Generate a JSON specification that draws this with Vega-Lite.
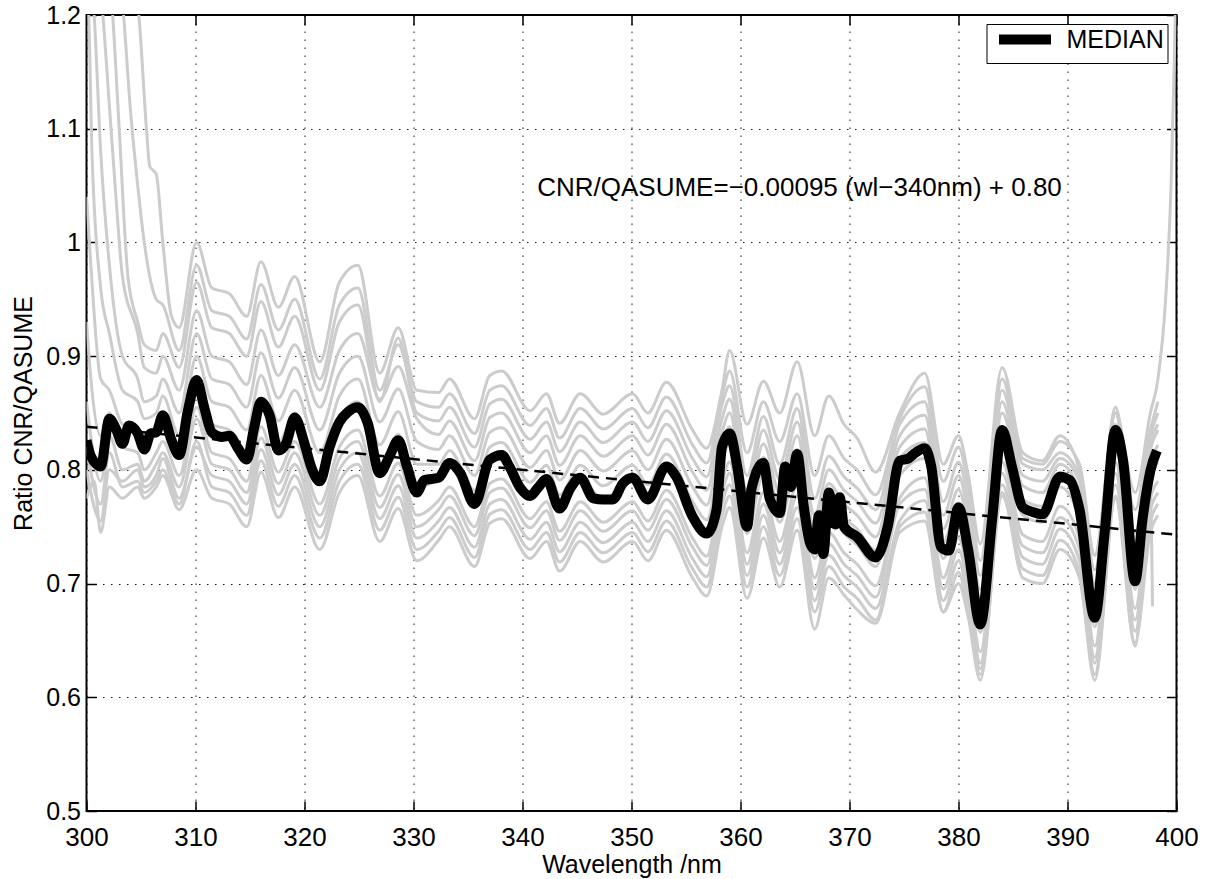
{
"$schema": "https://vega.github.io/schema/vega-lite/v6.json",
"width": 1090, "height": 796,
"autosize": {"type": "none"},
"padding": {"left": 86.5, "top": 15, "right": 35.5, "bottom": 68},
"background": "white",
"config": {"view": {"stroke": "black", "strokeWidth": 2}, "font": "Liberation Sans"},
"datasets": {
"fit": [{"w": 300, "v": 0.838}, {"w": 400, "v": 0.743}],
"note": [{"t": "CNR/QASUME=−0.00095 (wl−340nm) + 0.80"}],
"median": [
{"w":300.0,"v":0.826},{"w":300.4,"v":0.812},{"w":301.3,"v":0.803},{"w":302.1,"v":0.845},{"w":302.7,"v":0.836},{"w":303.3,"v":0.823},{"w":303.9,"v":0.839},{"w":304.7,"v":0.832},{"w":305.3,"v":0.818},{"w":305.9,"v":0.832},{"w":306.4,"v":0.833},{"w":307.0,"v":0.848},{"w":307.8,"v":0.826},{"w":308.5,"v":0.813},{"w":309.3,"v":0.852},{"w":310.1,"v":0.879},{"w":310.8,"v":0.855},{"w":311.5,"v":0.833},{"w":312.4,"v":0.829},{"w":313.1,"v":0.830},{"w":313.9,"v":0.819},{"w":314.7,"v":0.809},{"w":315.4,"v":0.838},{"w":316.0,"v":0.860},{"w":316.8,"v":0.848},{"w":317.6,"v":0.817},{"w":318.3,"v":0.823},{"w":319.1,"v":0.846},{"w":320.0,"v":0.823},{"w":320.6,"v":0.803},{"w":321.4,"v":0.790},{"w":322.3,"v":0.820},{"w":323.2,"v":0.842},{"w":324.0,"v":0.851},{"w":324.9,"v":0.855},{"w":325.8,"v":0.841},{"w":326.9,"v":0.797},{"w":327.8,"v":0.812},{"w":328.6,"v":0.826},{"w":329.4,"v":0.803},{"w":330.3,"v":0.780},{"w":331.0,"v":0.791},{"w":332.3,"v":0.793},{"w":333.3,"v":0.806},{"w":334.3,"v":0.797},{"w":335.6,"v":0.770},{"w":337.0,"v":0.809},{"w":338.1,"v":0.813},{"w":338.8,"v":0.803},{"w":339.8,"v":0.784},{"w":340.7,"v":0.777},{"w":341.4,"v":0.784},{"w":342.2,"v":0.792},{"w":343.4,"v":0.766},{"w":344.4,"v":0.784},{"w":345.3,"v":0.793},{"w":346.5,"v":0.775},{"w":347.4,"v":0.774},{"w":348.3,"v":0.774},{"w":349.2,"v":0.788},{"w":350.1,"v":0.793},{"w":351.5,"v":0.774},{"w":353.2,"v":0.803},{"w":354.1,"v":0.794},{"w":355.6,"v":0.759},{"w":356.9,"v":0.744},{"w":357.8,"v":0.765},{"w":358.3,"v":0.820},{"w":359.0,"v":0.832},{"w":359.7,"v":0.803},{"w":360.6,"v":0.750},{"w":361.0,"v":0.783},{"w":362.1,"v":0.806},{"w":362.7,"v":0.774},{"w":363.6,"v":0.762},{"w":364.1,"v":0.803},{"w":364.6,"v":0.785},{"w":365.2,"v":0.814},{"w":365.8,"v":0.768},{"w":366.4,"v":0.735},{"w":366.8,"v":0.730},{"w":367.2,"v":0.760},{"w":367.6,"v":0.726},{"w":368.1,"v":0.780},{"w":368.7,"v":0.752},{"w":369.1,"v":0.776},{"w":369.5,"v":0.750},{"w":370.7,"v":0.741},{"w":372.4,"v":0.723},{"w":373.5,"v":0.750},{"w":374.6,"v":0.808},{"w":375.4,"v":0.810},{"w":375.9,"v":0.814},{"w":376.9,"v":0.819},{"w":377.5,"v":0.803},{"w":378.4,"v":0.732},{"w":379.1,"v":0.729},{"w":380.0,"v":0.767},{"w":380.9,"v":0.729},{"w":382.0,"v":0.664},{"w":383.1,"v":0.758},{"w":384.0,"v":0.835},{"w":384.9,"v":0.803},{"w":385.9,"v":0.767},{"w":386.8,"v":0.763},{"w":387.7,"v":0.761},{"w":389.3,"v":0.794},{"w":390.2,"v":0.791},{"w":391.1,"v":0.765},{"w":392.5,"v":0.670},{"w":393.4,"v":0.744},{"w":394.4,"v":0.835},{"w":395.1,"v":0.808},{"w":396.2,"v":0.702},{"w":396.9,"v":0.758},{"w":397.6,"v":0.799},{"w":398.2,"v":0.817}
],
"gray": [
{"s":1,"w":300,"v":1.6},{"s":1,"w":302,"v":1.35},{"s":1,"w":304,"v":1.24},{"s":1,"w":304.8,"v":1.2},{"s":1,"w":305.5,"v":1.1},{"s":1,"w":305.8,"v":1.067},{"s":1,"w":306.4,"v":1.06},{"s":1,"w":307.0,"v":1.0},{"s":1,"w":307.8,"v":0.935},{"s":1,"w":308.5,"v":0.925},
{"s":1,"w":310.1,"v":1.000},{"s":1,"w":311.5,"v":0.960},{"s":1,"w":313.1,"v":0.955},{"s":1,"w":314.7,"v":0.935},{"s":1,"w":316.0,"v":0.983},{"s":1,"w":317.6,"v":0.943},{"s":1,"w":319.1,"v":0.970},{"s":1,"w":321.4,"v":0.895},{"s":1,"w":323.2,"v":0.965},{"s":1,"w":324.9,"v":0.980},{"s":1,"w":326.9,"v":0.885},{"s":1,"w":328.6,"v":0.925},{"s":1,"w":330.3,"v":0.870},
{"s":1,"w":332.3,"v":0.868},{"s":1,"w":333.3,"v":0.880},{"s":1,"w":335.6,"v":0.845},{"s":1,"w":337.0,"v":0.883},{"s":1,"w":338.1,"v":0.887},{"s":1,"w":340.7,"v":0.852},{"s":1,"w":342.2,"v":0.867},{"s":1,"w":343.4,"v":0.841},{"s":1,"w":345.3,"v":0.867},{"s":1,"w":347.4,"v":0.849},{"s":1,"w":350.1,"v":0.867},{"s":1,"w":351.5,"v":0.850},{"s":1,"w":353.2,"v":0.877},{"s":1,"w":355.6,"v":0.835},{"s":1,"w":356.9,"v":0.819},
{"s":1,"w":358.3,"v":0.870},{"s":1,"w":359.0,"v":0.905},{"s":1,"w":360.6,"v":0.840},{"s":1,"w":362.1,"v":0.878},{"s":1,"w":363.6,"v":0.850},{"s":1,"w":365.2,"v":0.895},{"s":1,"w":366.8,"v":0.830},{"s":1,"w":368.1,"v":0.865},{"s":1,"w":369.5,"v":0.840},{"s":1,"w":370.7,"v":0.828},{"s":1,"w":372.4,"v":0.798},{"s":1,"w":374.6,"v":0.850},{"s":1,"w":376.9,"v":0.885},{"s":1,"w":378.6,"v":0.805},{"s":1,"w":380.0,"v":0.830},{"s":1,"w":380.9,"v":0.795},{"s":1,"w":382.0,"v":0.735},{"s":1,"w":384.0,"v":0.890},{"s":1,"w":385.9,"v":0.815},{"s":1,"w":387.7,"v":0.808},{"s":1,"w":389.3,"v":0.830},{"s":1,"w":391.1,"v":0.800},{"s":1,"w":392.5,"v":0.725},{"s":1,"w":394.4,"v":0.850},{"s":1,"w":396.2,"v":0.780},{"s":1,"w":397.6,"v":0.850},{"s":1,"w":398.3,"v":0.880},{"s":1,"w":399.0,"v":0.950},{"s":1,"w":399.5,"v":1.050},{"s":1,"w":399.8,"v":1.160},{"s":1,"w":400,"v":1.250},
{"s":2,"w":300,"v":1.5},{"s":2,"w":302,"v":1.3},{"s":2,"w":303.4,"v":1.2},{"s":2,"w":304,"v":1.12},{"s":2,"w":304.7,"v":1.05},{"s":2,"w":305.3,"v":1.0},{"s":2,"w":306.4,"v":0.95},{"s":2,"w":307.0,"v":0.945},{"s":2,"w":308.5,"v":0.905},
{"s":2,"w":310.1,"v":0.980},{"s":2,"w":311.5,"v":0.940},{"s":2,"w":313.1,"v":0.935},{"s":2,"w":314.7,"v":0.915},{"s":2,"w":316.0,"v":0.963},{"s":2,"w":317.6,"v":0.923},{"s":2,"w":319.1,"v":0.950},{"s":2,"w":321.4,"v":0.880},{"s":2,"w":323.2,"v":0.945},{"s":2,"w":324.9,"v":0.960},{"s":2,"w":326.9,"v":0.870},{"s":2,"w":328.6,"v":0.910},{"s":2,"w":330.3,"v":0.860},
{"s":2,"w":332.3,"v":0.855},{"s":2,"w":333.3,"v":0.867},{"s":2,"w":335.6,"v":0.832},{"s":2,"w":337.0,"v":0.870},{"s":2,"w":338.1,"v":0.874},{"s":2,"w":340.7,"v":0.839},{"s":2,"w":342.2,"v":0.854},{"s":2,"w":343.4,"v":0.828},{"s":2,"w":345.3,"v":0.854},{"s":2,"w":347.4,"v":0.836},{"s":2,"w":350.1,"v":0.854},{"s":2,"w":351.5,"v":0.837},{"s":2,"w":353.2,"v":0.864},{"s":2,"w":355.6,"v":0.822},{"s":2,"w":356.9,"v":0.806},
{"s":2,"w":358.3,"v":0.865},{"s":2,"w":359.0,"v":0.887},{"s":2,"w":360.6,"v":0.815},{"s":2,"w":362.1,"v":0.860},{"s":2,"w":363.6,"v":0.825},{"s":2,"w":365.2,"v":0.867},{"s":2,"w":366.8,"v":0.795},{"s":2,"w":368.1,"v":0.830},{"s":2,"w":369.5,"v":0.810},{"s":2,"w":370.7,"v":0.800},{"s":2,"w":372.4,"v":0.778},{"s":2,"w":374.6,"v":0.845},{"s":2,"w":376.9,"v":0.873},{"s":2,"w":378.6,"v":0.790},{"s":2,"w":380.0,"v":0.820},{"s":2,"w":380.9,"v":0.785},{"s":2,"w":382.0,"v":0.720},{"s":2,"w":384.0,"v":0.880},{"s":2,"w":385.9,"v":0.810},{"s":2,"w":387.7,"v":0.805},{"s":2,"w":389.3,"v":0.825},{"s":2,"w":391.1,"v":0.805},{"s":2,"w":392.5,"v":0.725},{"s":2,"w":394.4,"v":0.850},{"s":2,"w":396.2,"v":0.765},{"s":2,"w":397.6,"v":0.835},{"s":2,"w":398.3,"v":0.860},
{"s":3,"w":300,"v":1.4},{"s":3,"w":301,"v":1.3},{"s":3,"w":302.4,"v":1.2},{"s":3,"w":303,"v":1.1},{"s":3,"w":303.8,"v":0.97},{"s":3,"w":304.7,"v":0.93},{"s":3,"w":305.3,"v":0.91},{"s":3,"w":306.4,"v":0.905},{"s":3,"w":307.0,"v":0.92},{"s":3,"w":308.5,"v":0.89},
{"s":3,"w":310.1,"v":0.965},{"s":3,"w":311.5,"v":0.925},{"s":3,"w":313.1,"v":0.920},{"s":3,"w":314.7,"v":0.900},{"s":3,"w":316.0,"v":0.948},{"s":3,"w":317.6,"v":0.908},{"s":3,"w":319.1,"v":0.935},{"s":3,"w":321.4,"v":0.870},{"s":3,"w":323.2,"v":0.930},{"s":3,"w":324.9,"v":0.945},{"s":3,"w":326.9,"v":0.860},{"s":3,"w":328.6,"v":0.916},{"s":3,"w":330.3,"v":0.850},
{"s":3,"w":332.3,"v":0.843},{"s":3,"w":333.3,"v":0.855},{"s":3,"w":335.6,"v":0.820},{"s":3,"w":337.0,"v":0.858},{"s":3,"w":338.1,"v":0.862},{"s":3,"w":340.7,"v":0.827},{"s":3,"w":342.2,"v":0.842},{"s":3,"w":343.4,"v":0.816},{"s":3,"w":345.3,"v":0.842},{"s":3,"w":347.4,"v":0.824},{"s":3,"w":350.1,"v":0.842},{"s":3,"w":351.5,"v":0.825},{"s":3,"w":353.2,"v":0.852},{"s":3,"w":355.6,"v":0.810},{"s":3,"w":356.9,"v":0.794},
{"s":3,"w":358.3,"v":0.857},{"s":3,"w":359.0,"v":0.874},{"s":3,"w":360.6,"v":0.795},{"s":3,"w":362.1,"v":0.847},{"s":3,"w":363.6,"v":0.805},{"s":3,"w":365.2,"v":0.854},{"s":3,"w":366.8,"v":0.775},{"s":3,"w":368.1,"v":0.812},{"s":3,"w":369.5,"v":0.794},{"s":3,"w":370.7,"v":0.784},{"s":3,"w":372.4,"v":0.765},{"s":3,"w":374.6,"v":0.840},{"s":3,"w":376.9,"v":0.860},{"s":3,"w":378.6,"v":0.772},{"s":3,"w":380.0,"v":0.807},{"s":3,"w":380.9,"v":0.772},{"s":3,"w":382.0,"v":0.707},{"s":3,"w":384.0,"v":0.870},{"s":3,"w":385.9,"v":0.805},{"s":3,"w":387.7,"v":0.800},{"s":3,"w":389.3,"v":0.815},{"s":3,"w":391.1,"v":0.795},{"s":3,"w":392.5,"v":0.712},{"s":3,"w":394.4,"v":0.855},{"s":3,"w":396.2,"v":0.745},{"s":3,"w":397.6,"v":0.830},{"s":3,"w":398.3,"v":0.850},
{"s":4,"w":300,"v":1.3},{"s":4,"w":301.5,"v":1.2},{"s":4,"w":302.1,"v":1.12},{"s":4,"w":302.7,"v":1.04},{"s":4,"w":303.3,"v":0.97},{"s":4,"w":304.7,"v":0.92},{"s":4,"w":305.3,"v":0.89},{"s":4,"w":306.4,"v":0.885},{"s":4,"w":307.0,"v":0.9},{"s":4,"w":308.5,"v":0.87},
{"s":4,"w":310.1,"v":0.940},{"s":4,"w":311.5,"v":0.900},{"s":4,"w":313.1,"v":0.895},{"s":4,"w":314.7,"v":0.875},{"s":4,"w":316.0,"v":0.923},{"s":4,"w":317.6,"v":0.883},{"s":4,"w":319.1,"v":0.910},{"s":4,"w":321.4,"v":0.855},{"s":4,"w":323.2,"v":0.905},{"s":4,"w":324.9,"v":0.920},{"s":4,"w":326.9,"v":0.862},{"s":4,"w":328.6,"v":0.891},{"s":4,"w":330.3,"v":0.845},
{"s":4,"w":332.3,"v":0.831},{"s":4,"w":333.3,"v":0.843},{"s":4,"w":335.6,"v":0.808},{"s":4,"w":337.0,"v":0.846},{"s":4,"w":338.1,"v":0.850},{"s":4,"w":340.7,"v":0.815},{"s":4,"w":342.2,"v":0.830},{"s":4,"w":343.4,"v":0.804},{"s":4,"w":345.3,"v":0.830},{"s":4,"w":347.4,"v":0.812},{"s":4,"w":350.1,"v":0.830},{"s":4,"w":351.5,"v":0.813},{"s":4,"w":353.2,"v":0.840},{"s":4,"w":355.6,"v":0.798},{"s":4,"w":356.9,"v":0.782},
{"s":4,"w":358.3,"v":0.845},{"s":4,"w":359.0,"v":0.862},{"s":4,"w":360.6,"v":0.782},{"s":4,"w":362.1,"v":0.835},{"s":4,"w":363.6,"v":0.792},{"s":4,"w":365.2,"v":0.842},{"s":4,"w":366.8,"v":0.760},{"s":4,"w":368.1,"v":0.800},{"s":4,"w":369.5,"v":0.782},{"s":4,"w":370.7,"v":0.772},{"s":4,"w":372.4,"v":0.753},{"s":4,"w":374.6,"v":0.830},{"s":4,"w":376.9,"v":0.848},{"s":4,"w":378.6,"v":0.760},{"s":4,"w":380.0,"v":0.795},{"s":4,"w":380.9,"v":0.760},{"s":4,"w":382.0,"v":0.695},{"s":4,"w":384.0,"v":0.860},{"s":4,"w":385.9,"v":0.795},{"s":4,"w":387.7,"v":0.790},{"s":4,"w":389.3,"v":0.810},{"s":4,"w":391.1,"v":0.790},{"s":4,"w":392.5,"v":0.700},{"s":4,"w":394.4,"v":0.855},{"s":4,"w":396.2,"v":0.733},{"s":4,"w":397.6,"v":0.825},{"s":4,"w":398.3,"v":0.840},
{"s":5,"w":300,"v":1.25},{"s":5,"w":300.7,"v":1.2},{"s":5,"w":301.3,"v":1.08},{"s":5,"w":302.1,"v":0.98},{"s":5,"w":303.3,"v":0.9},{"s":5,"w":304.7,"v":0.88},{"s":5,"w":305.3,"v":0.86},{"s":5,"w":306.4,"v":0.865},{"s":5,"w":307.0,"v":0.88},{"s":5,"w":308.5,"v":0.85},
{"s":5,"w":310.1,"v":0.920},{"s":5,"w":311.5,"v":0.880},{"s":5,"w":313.1,"v":0.875},{"s":5,"w":314.7,"v":0.855},{"s":5,"w":316.0,"v":0.903},{"s":5,"w":317.6,"v":0.863},{"s":5,"w":319.1,"v":0.890},{"s":5,"w":321.4,"v":0.835},{"s":5,"w":323.2,"v":0.885},{"s":5,"w":324.9,"v":0.900},{"s":5,"w":326.9,"v":0.842},{"s":5,"w":328.6,"v":0.871},{"s":5,"w":330.3,"v":0.825},
{"s":5,"w":332.3,"v":0.818},{"s":5,"w":333.3,"v":0.830},{"s":5,"w":335.6,"v":0.795},{"s":5,"w":337.0,"v":0.833},{"s":5,"w":338.1,"v":0.837},{"s":5,"w":340.7,"v":0.802},{"s":5,"w":342.2,"v":0.817},{"s":5,"w":343.4,"v":0.791},{"s":5,"w":345.3,"v":0.817},{"s":5,"w":347.4,"v":0.799},{"s":5,"w":350.1,"v":0.817},{"s":5,"w":351.5,"v":0.800},{"s":5,"w":353.2,"v":0.827},{"s":5,"w":355.6,"v":0.785},{"s":5,"w":356.9,"v":0.769},
{"s":5,"w":358.3,"v":0.833},{"s":5,"w":359.0,"v":0.850},{"s":5,"w":360.6,"v":0.770},{"s":5,"w":362.1,"v":0.823},{"s":5,"w":363.6,"v":0.780},{"s":5,"w":365.2,"v":0.830},{"s":5,"w":366.8,"v":0.748},{"s":5,"w":368.1,"v":0.788},{"s":5,"w":369.5,"v":0.770},{"s":5,"w":370.7,"v":0.760},{"s":5,"w":372.4,"v":0.741},{"s":5,"w":374.6,"v":0.820},{"s":5,"w":376.9,"v":0.836},{"s":5,"w":378.6,"v":0.748},{"s":5,"w":380.0,"v":0.783},{"s":5,"w":380.9,"v":0.748},{"s":5,"w":382.0,"v":0.683},{"s":5,"w":384.0,"v":0.850},{"s":5,"w":385.9,"v":0.786},{"s":5,"w":387.7,"v":0.780},{"s":5,"w":389.3,"v":0.805},{"s":5,"w":391.1,"v":0.782},{"s":5,"w":392.5,"v":0.688},{"s":5,"w":394.4,"v":0.850},{"s":5,"w":396.2,"v":0.721},{"s":5,"w":397.6,"v":0.818},{"s":5,"w":398.3,"v":0.835},
{"s":6,"w":300,"v":1.22},{"s":6,"w":300.2,"v":1.2},{"s":6,"w":300.5,"v":1.08},{"s":6,"w":301.3,"v":0.96},{"s":6,"w":302.1,"v":0.92},{"s":6,"w":303.3,"v":0.87},{"s":6,"w":304.7,"v":0.86},{"s":6,"w":305.3,"v":0.845},{"s":6,"w":306.4,"v":0.85},{"s":6,"w":307.0,"v":0.865},{"s":6,"w":308.5,"v":0.83},
{"s":6,"w":310.1,"v":0.900},{"s":6,"w":311.5,"v":0.860},{"s":6,"w":313.1,"v":0.855},{"s":6,"w":314.7,"v":0.835},{"s":6,"w":316.0,"v":0.883},{"s":6,"w":317.6,"v":0.843},{"s":6,"w":319.1,"v":0.870},{"s":6,"w":321.4,"v":0.815},{"s":6,"w":323.2,"v":0.865},{"s":6,"w":324.9,"v":0.880},{"s":6,"w":326.9,"v":0.822},{"s":6,"w":328.6,"v":0.851},{"s":6,"w":330.3,"v":0.805},
{"s":6,"w":332.3,"v":0.805},{"s":6,"w":333.3,"v":0.817},{"s":6,"w":335.6,"v":0.782},{"s":6,"w":337.0,"v":0.820},{"s":6,"w":338.1,"v":0.824},{"s":6,"w":340.7,"v":0.789},{"s":6,"w":342.2,"v":0.804},{"s":6,"w":343.4,"v":0.778},{"s":6,"w":345.3,"v":0.804},{"s":6,"w":347.4,"v":0.786},{"s":6,"w":350.1,"v":0.804},{"s":6,"w":351.5,"v":0.787},{"s":6,"w":353.2,"v":0.814},{"s":6,"w":355.6,"v":0.772},{"s":6,"w":356.9,"v":0.756},
{"s":6,"w":358.3,"v":0.821},{"s":6,"w":359.0,"v":0.838},{"s":6,"w":360.6,"v":0.758},{"s":6,"w":362.1,"v":0.811},{"s":6,"w":363.6,"v":0.768},{"s":6,"w":365.2,"v":0.818},{"s":6,"w":366.8,"v":0.736},{"s":6,"w":368.1,"v":0.776},{"s":6,"w":369.5,"v":0.758},{"s":6,"w":370.7,"v":0.748},{"s":6,"w":372.4,"v":0.729},{"s":6,"w":374.6,"v":0.810},{"s":6,"w":376.9,"v":0.824},{"s":6,"w":378.6,"v":0.736},{"s":6,"w":380.0,"v":0.771},{"s":6,"w":380.9,"v":0.736},{"s":6,"w":382.0,"v":0.671},{"s":6,"w":384.0,"v":0.838},{"s":6,"w":385.9,"v":0.774},{"s":6,"w":387.7,"v":0.768},{"s":6,"w":389.3,"v":0.798},{"s":6,"w":391.1,"v":0.771},{"s":6,"w":392.5,"v":0.676},{"s":6,"w":394.4,"v":0.840},{"s":6,"w":396.2,"v":0.709},{"s":6,"w":397.6,"v":0.806},{"s":6,"w":398.3,"v":0.822},
{"s":7,"w":300,"v":1.04},{"s":7,"w":300.4,"v":0.98},{"s":7,"w":301.3,"v":0.88},{"s":7,"w":302.1,"v":0.87},{"s":7,"w":303.3,"v":0.84},{"s":7,"w":304.7,"v":0.835},{"s":7,"w":305.3,"v":0.825},{"s":7,"w":306.4,"v":0.835},{"s":7,"w":307.0,"v":0.85},{"s":7,"w":308.5,"v":0.815},
{"s":7,"w":310.1,"v":0.880},{"s":7,"w":311.5,"v":0.840},{"s":7,"w":313.1,"v":0.835},{"s":7,"w":314.7,"v":0.815},{"s":7,"w":316.0,"v":0.863},{"s":7,"w":317.6,"v":0.823},{"s":7,"w":319.1,"v":0.850},{"s":7,"w":321.4,"v":0.795},{"s":7,"w":323.2,"v":0.845},{"s":7,"w":324.9,"v":0.860},{"s":7,"w":326.9,"v":0.802},{"s":7,"w":328.6,"v":0.831},{"s":7,"w":330.3,"v":0.785},
{"s":7,"w":332.3,"v":0.793},{"s":7,"w":333.3,"v":0.805},{"s":7,"w":335.6,"v":0.770},{"s":7,"w":337.0,"v":0.808},{"s":7,"w":338.1,"v":0.812},{"s":7,"w":340.7,"v":0.777},{"s":7,"w":342.2,"v":0.792},{"s":7,"w":343.4,"v":0.766},{"s":7,"w":345.3,"v":0.792},{"s":7,"w":347.4,"v":0.774},{"s":7,"w":350.1,"v":0.792},{"s":7,"w":351.5,"v":0.775},{"s":7,"w":353.2,"v":0.802},{"s":7,"w":355.6,"v":0.760},{"s":7,"w":356.9,"v":0.744},
{"s":7,"w":358.3,"v":0.807},{"s":7,"w":359.0,"v":0.824},{"s":7,"w":360.6,"v":0.744},{"s":7,"w":362.1,"v":0.797},{"s":7,"w":363.6,"v":0.754},{"s":7,"w":365.2,"v":0.804},{"s":7,"w":366.8,"v":0.722},{"s":7,"w":368.1,"v":0.762},{"s":7,"w":369.5,"v":0.744},{"s":7,"w":370.7,"v":0.734},{"s":7,"w":372.4,"v":0.715},{"s":7,"w":374.6,"v":0.795},{"s":7,"w":376.9,"v":0.810},{"s":7,"w":378.6,"v":0.722},{"s":7,"w":380.0,"v":0.757},{"s":7,"w":380.9,"v":0.722},{"s":7,"w":382.0,"v":0.657},{"s":7,"w":384.0,"v":0.824},{"s":7,"w":385.9,"v":0.760},{"s":7,"w":387.7,"v":0.754},{"s":7,"w":389.3,"v":0.785},{"s":7,"w":391.1,"v":0.757},{"s":7,"w":392.5,"v":0.662},{"s":7,"w":394.4,"v":0.824},{"s":7,"w":396.2,"v":0.695},{"s":7,"w":397.6,"v":0.792},{"s":7,"w":398.3,"v":0.807},
{"s":8,"w":300,"v":0.93},{"s":8,"w":300.5,"v":0.87},{"s":8,"w":301.3,"v":0.83},{"s":8,"w":302.1,"v":0.85},{"s":8,"w":303.3,"v":0.82},{"s":8,"w":304.7,"v":0.815},{"s":8,"w":305.3,"v":0.80},{"s":8,"w":306.4,"v":0.815},{"s":8,"w":307.0,"v":0.825},{"s":8,"w":308.5,"v":0.795},
{"s":8,"w":310.1,"v":0.855},{"s":8,"w":311.5,"v":0.815},{"s":8,"w":313.1,"v":0.810},{"s":8,"w":314.7,"v":0.790},{"s":8,"w":316.0,"v":0.838},{"s":8,"w":317.6,"v":0.798},{"s":8,"w":319.1,"v":0.825},{"s":8,"w":321.4,"v":0.770},{"s":8,"w":323.2,"v":0.820},{"s":8,"w":324.9,"v":0.835},{"s":8,"w":326.9,"v":0.777},{"s":8,"w":328.6,"v":0.806},{"s":8,"w":330.3,"v":0.760},
{"s":8,"w":332.3,"v":0.773},{"s":8,"w":333.3,"v":0.785},{"s":8,"w":335.6,"v":0.750},{"s":8,"w":337.0,"v":0.788},{"s":8,"w":338.1,"v":0.792},{"s":8,"w":340.7,"v":0.757},{"s":8,"w":342.2,"v":0.772},{"s":8,"w":343.4,"v":0.746},{"s":8,"w":345.3,"v":0.772},{"s":8,"w":347.4,"v":0.754},{"s":8,"w":350.1,"v":0.772},{"s":8,"w":351.5,"v":0.755},{"s":8,"w":353.2,"v":0.782},{"s":8,"w":355.6,"v":0.740},{"s":8,"w":356.9,"v":0.724},
{"s":8,"w":358.3,"v":0.790},{"s":8,"w":359.0,"v":0.807},{"s":8,"w":360.6,"v":0.727},{"s":8,"w":362.1,"v":0.780},{"s":8,"w":363.6,"v":0.737},{"s":8,"w":365.2,"v":0.787},{"s":8,"w":366.8,"v":0.705},{"s":8,"w":368.1,"v":0.745},{"s":8,"w":369.5,"v":0.727},{"s":8,"w":370.7,"v":0.717},{"s":8,"w":372.4,"v":0.698},{"s":8,"w":374.6,"v":0.775},{"s":8,"w":376.9,"v":0.793},{"s":8,"w":378.6,"v":0.705},{"s":8,"w":380.0,"v":0.740},{"s":8,"w":380.9,"v":0.705},{"s":8,"w":382.0,"v":0.640},{"s":8,"w":384.0,"v":0.807},{"s":8,"w":385.9,"v":0.743},{"s":8,"w":387.7,"v":0.737},{"s":8,"w":389.3,"v":0.768},{"s":8,"w":391.1,"v":0.740},{"s":8,"w":392.5,"v":0.645},{"s":8,"w":394.4,"v":0.807},{"s":8,"w":396.2,"v":0.678},{"s":8,"w":397.6,"v":0.775},{"s":8,"w":398.3,"v":0.790},
{"s":9,"w":300,"v":0.80},{"s":9,"w":301.3,"v":0.755},{"s":9,"w":302.1,"v":0.80},{"s":9,"w":303.3,"v":0.79},{"s":9,"w":304.7,"v":0.80},{"s":9,"w":305.3,"v":0.785},{"s":9,"w":306.4,"v":0.795},{"s":9,"w":307.0,"v":0.81},{"s":9,"w":308.5,"v":0.775},
{"s":9,"w":310.1,"v":0.820},{"s":9,"w":311.5,"v":0.795},{"s":9,"w":313.1,"v":0.790},{"s":9,"w":314.7,"v":0.770},{"s":9,"w":316.0,"v":0.818},{"s":9,"w":317.6,"v":0.778},{"s":9,"w":319.1,"v":0.805},{"s":9,"w":321.4,"v":0.750},{"s":9,"w":323.2,"v":0.800},{"s":9,"w":324.9,"v":0.815},{"s":9,"w":326.9,"v":0.757},{"s":9,"w":328.6,"v":0.786},{"s":9,"w":330.3,"v":0.740},
{"s":9,"w":332.3,"v":0.755},{"s":9,"w":333.3,"v":0.767},{"s":9,"w":335.6,"v":0.732},{"s":9,"w":337.0,"v":0.770},{"s":9,"w":338.1,"v":0.774},{"s":9,"w":340.7,"v":0.739},{"s":9,"w":342.2,"v":0.754},{"s":9,"w":343.4,"v":0.728},{"s":9,"w":345.3,"v":0.754},{"s":9,"w":347.4,"v":0.736},{"s":9,"w":350.1,"v":0.754},{"s":9,"w":351.5,"v":0.737},{"s":9,"w":353.2,"v":0.764},{"s":9,"w":355.6,"v":0.722},{"s":9,"w":356.9,"v":0.706},
{"s":9,"w":358.3,"v":0.770},{"s":9,"w":359.0,"v":0.787},{"s":9,"w":360.6,"v":0.707},{"s":9,"w":362.1,"v":0.760},{"s":9,"w":363.6,"v":0.717},{"s":9,"w":365.2,"v":0.767},{"s":9,"w":366.8,"v":0.685},{"s":9,"w":368.1,"v":0.725},{"s":9,"w":369.5,"v":0.707},{"s":9,"w":370.7,"v":0.697},{"s":9,"w":372.4,"v":0.678},{"s":9,"w":374.6,"v":0.755},{"s":9,"w":376.9,"v":0.773},{"s":9,"w":378.6,"v":0.685},{"s":9,"w":380.0,"v":0.720},{"s":9,"w":380.9,"v":0.685},{"s":9,"w":382.0,"v":0.625},{"s":9,"w":384.0,"v":0.787},{"s":9,"w":385.9,"v":0.723},{"s":9,"w":387.7,"v":0.717},{"s":9,"w":389.3,"v":0.748},{"s":9,"w":391.1,"v":0.720},{"s":9,"w":392.5,"v":0.630},{"s":9,"w":394.4,"v":0.787},{"s":9,"w":396.2,"v":0.658},{"s":9,"w":397.6,"v":0.755},{"s":9,"w":398.3,"v":0.770},
{"s":10,"w":300,"v":0.775},{"s":10,"w":300.7,"v":0.79},{"s":10,"w":301.3,"v":0.745},{"s":10,"w":302.1,"v":0.785},{"s":10,"w":303.3,"v":0.775},{"s":10,"w":304.7,"v":0.785},{"s":10,"w":305.3,"v":0.775},{"s":10,"w":306.4,"v":0.785},{"s":10,"w":307.0,"v":0.795},{"s":10,"w":308.5,"v":0.765},
{"s":10,"w":310.1,"v":0.800},{"s":10,"w":311.5,"v":0.775},{"s":10,"w":313.1,"v":0.770},{"s":10,"w":314.7,"v":0.750},{"s":10,"w":316.0,"v":0.798},{"s":10,"w":317.6,"v":0.758},{"s":10,"w":319.1,"v":0.785},{"s":10,"w":321.4,"v":0.730},{"s":10,"w":323.2,"v":0.780},{"s":10,"w":324.9,"v":0.795},{"s":10,"w":326.9,"v":0.737},{"s":10,"w":328.6,"v":0.766},{"s":10,"w":330.3,"v":0.720},
{"s":10,"w":332.3,"v":0.738},{"s":10,"w":333.3,"v":0.750},{"s":10,"w":335.6,"v":0.715},{"s":10,"w":337.0,"v":0.753},{"s":10,"w":338.1,"v":0.757},{"s":10,"w":340.7,"v":0.722},{"s":10,"w":342.2,"v":0.737},{"s":10,"w":343.4,"v":0.711},{"s":10,"w":345.3,"v":0.737},{"s":10,"w":347.4,"v":0.719},{"s":10,"w":350.1,"v":0.737},{"s":10,"w":351.5,"v":0.720},{"s":10,"w":353.2,"v":0.747},{"s":10,"w":355.6,"v":0.705},{"s":10,"w":356.9,"v":0.689},
{"s":10,"w":358.3,"v":0.750},{"s":10,"w":359.0,"v":0.767},{"s":10,"w":360.6,"v":0.687},{"s":10,"w":362.1,"v":0.740},{"s":10,"w":363.6,"v":0.697},{"s":10,"w":365.2,"v":0.747},{"s":10,"w":366.8,"v":0.660},{"s":10,"w":368.1,"v":0.705},{"s":10,"w":369.5,"v":0.690},{"s":10,"w":370.7,"v":0.677},{"s":10,"w":372.4,"v":0.665},{"s":10,"w":374.6,"v":0.745},{"s":10,"w":376.9,"v":0.755},{"s":10,"w":378.6,"v":0.675},{"s":10,"w":380.0,"v":0.700},{"s":10,"w":380.9,"v":0.670},{"s":10,"w":382.0,"v":0.615},{"s":10,"w":384.0,"v":0.780},{"s":10,"w":385.9,"v":0.705},{"s":10,"w":387.7,"v":0.700},{"s":10,"w":389.3,"v":0.730},{"s":10,"w":391.1,"v":0.705},{"s":10,"w":392.5,"v":0.615},{"s":10,"w":394.4,"v":0.775},{"s":10,"w":396.2,"v":0.645},{"s":10,"w":397.2,"v":0.760},{"s":10,"w":397.6,"v":0.780},{"s":10,"w":397.8,"v":0.680},
{"s":11,"w":300,"v":0.86},{"s":11,"w":301.3,"v":0.79},{"s":11,"w":302.1,"v":0.83},{"s":11,"w":303.3,"v":0.80},{"s":11,"w":304.7,"v":0.805},{"s":11,"w":305.3,"v":0.79},{"s":11,"w":306.4,"v":0.805},{"s":11,"w":307.0,"v":0.815},{"s":11,"w":308.5,"v":0.785},
{"s":11,"w":310.1,"v":0.845},{"s":11,"w":311.5,"v":0.805},{"s":11,"w":313.1,"v":0.800},{"s":11,"w":314.7,"v":0.780},{"s":11,"w":316.0,"v":0.828},{"s":11,"w":317.6,"v":0.788},{"s":11,"w":319.1,"v":0.815},{"s":11,"w":321.4,"v":0.760},{"s":11,"w":323.2,"v":0.810},{"s":11,"w":324.9,"v":0.825},{"s":11,"w":326.9,"v":0.767},{"s":11,"w":328.6,"v":0.796},{"s":11,"w":330.3,"v":0.750},
{"s":11,"w":332.3,"v":0.765},{"s":11,"w":333.3,"v":0.777},{"s":11,"w":335.6,"v":0.742},{"s":11,"w":337.0,"v":0.780},{"s":11,"w":338.1,"v":0.784},{"s":11,"w":340.7,"v":0.749},{"s":11,"w":342.2,"v":0.764},{"s":11,"w":343.4,"v":0.738},{"s":11,"w":345.3,"v":0.764},{"s":11,"w":347.4,"v":0.746},{"s":11,"w":350.1,"v":0.764},{"s":11,"w":351.5,"v":0.747},{"s":11,"w":353.2,"v":0.774},{"s":11,"w":355.6,"v":0.732},{"s":11,"w":356.9,"v":0.716},
{"s":11,"w":358.3,"v":0.780},{"s":11,"w":359.0,"v":0.797},{"s":11,"w":360.6,"v":0.717},{"s":11,"w":362.1,"v":0.770},{"s":11,"w":363.6,"v":0.727},{"s":11,"w":365.2,"v":0.777},{"s":11,"w":366.8,"v":0.695},{"s":11,"w":368.1,"v":0.735},{"s":11,"w":369.5,"v":0.717},{"s":11,"w":370.7,"v":0.707},{"s":11,"w":372.4,"v":0.688},{"s":11,"w":374.6,"v":0.770},{"s":11,"w":376.9,"v":0.783},{"s":11,"w":378.6,"v":0.695},{"s":11,"w":380.0,"v":0.730},{"s":11,"w":380.9,"v":0.695},{"s":11,"w":382.0,"v":0.630},{"s":11,"w":384.0,"v":0.797},{"s":11,"w":385.9,"v":0.733},{"s":11,"w":387.7,"v":0.727},{"s":11,"w":389.3,"v":0.758},{"s":11,"w":391.1,"v":0.730},{"s":11,"w":392.5,"v":0.635},{"s":11,"w":394.4,"v":0.797},{"s":11,"w":396.2,"v":0.668},{"s":11,"w":397.6,"v":0.765},{"s":11,"w":398.3,"v":0.780},
{"s":12,"w":300,"v":0.82},{"s":12,"w":301.3,"v":0.77},{"s":12,"w":302.1,"v":0.815},{"s":12,"w":303.3,"v":0.785},{"s":12,"w":304.7,"v":0.79},{"s":12,"w":305.3,"v":0.78},{"s":12,"w":306.4,"v":0.79},{"s":12,"w":307.0,"v":0.80},{"s":12,"w":308.5,"v":0.77},
{"s":12,"w":310.1,"v":0.825},{"s":12,"w":311.5,"v":0.785},{"s":12,"w":313.1,"v":0.780},{"s":12,"w":314.7,"v":0.760},{"s":12,"w":316.0,"v":0.808},{"s":12,"w":317.6,"v":0.768},{"s":12,"w":319.1,"v":0.795},{"s":12,"w":321.4,"v":0.740},{"s":12,"w":323.2,"v":0.790},{"s":12,"w":324.9,"v":0.805},{"s":12,"w":326.9,"v":0.747},{"s":12,"w":328.6,"v":0.776},{"s":12,"w":330.3,"v":0.730},
{"s":12,"w":332.3,"v":0.746},{"s":12,"w":333.3,"v":0.758},{"s":12,"w":335.6,"v":0.723},{"s":12,"w":337.0,"v":0.761},{"s":12,"w":338.1,"v":0.765},{"s":12,"w":340.7,"v":0.730},{"s":12,"w":342.2,"v":0.745},{"s":12,"w":343.4,"v":0.719},{"s":12,"w":345.3,"v":0.745},{"s":12,"w":347.4,"v":0.727},{"s":12,"w":350.1,"v":0.745},{"s":12,"w":351.5,"v":0.728},{"s":12,"w":353.2,"v":0.755},{"s":12,"w":355.6,"v":0.713},{"s":12,"w":356.9,"v":0.697},
{"s":12,"w":358.3,"v":0.760},{"s":12,"w":359.0,"v":0.777},{"s":12,"w":360.6,"v":0.697},{"s":12,"w":362.1,"v":0.750},{"s":12,"w":363.6,"v":0.707},{"s":12,"w":365.2,"v":0.757},{"s":12,"w":366.8,"v":0.675},{"s":12,"w":368.1,"v":0.715},{"s":12,"w":369.5,"v":0.697},{"s":12,"w":370.7,"v":0.687},{"s":12,"w":372.4,"v":0.668},{"s":12,"w":374.6,"v":0.750},{"s":12,"w":376.9,"v":0.763},{"s":12,"w":378.6,"v":0.675},{"s":12,"w":380.0,"v":0.710},{"s":12,"w":380.9,"v":0.675},{"s":12,"w":382.0,"v":0.620},{"s":12,"w":384.0,"v":0.777},{"s":12,"w":385.9,"v":0.713},{"s":12,"w":387.7,"v":0.707},{"s":12,"w":389.3,"v":0.738},{"s":12,"w":391.1,"v":0.710},{"s":12,"w":392.5,"v":0.620},{"s":12,"w":394.4,"v":0.777},{"s":12,"w":396.2,"v":0.648},{"s":12,"w":397.6,"v":0.745},{"s":12,"w":398.3,"v":0.760}
]
},
"layer": [
{
"data": {"name": "gray"},
"mark": {"type": "line", "stroke": "#cccccc", "strokeWidth": 3, "clip": true, "interpolate": "monotone"},
"encoding": {
"x": {"field": "w", "type": "quantitative", "scale": {"domain": [300, 400], "nice": false, "zero": false},
"axis": {"orient": "bottom", "values": [300,310,320,330,340,350,360,370,380,390,400], "format": "d", "grid": true, "gridColor": "black", "gridDash": [1.5, 6.5], "gridWidth": 1, "gridOpacity": 0.9, "domain": false, "ticks": true, "tickSize": -10, "tickColor": "black", "tickWidth": 1.5, "labelFontSize": 26, "labelColor": "black", "labelFont": "Liberation Sans", "labelPadding": 23, "labelFlush": false, "labelOverlap": false, "title": "Wavelength /nm", "titleFontSize": 25, "titleFontWeight": "normal", "titleColor": "black", "titleFont": "Liberation Sans", "titlePadding": 2}},
"y": {"field": "v", "type": "quantitative", "scale": {"domain": [0.5, 1.2], "nice": false, "zero": false},
"axis": {"orient": "left", "values": [0.5,0.6,0.7,0.8,0.9,1,1.1,1.2], "format": ".1~f", "grid": true, "gridColor": "black", "gridDash": [1.5, 6.5], "gridWidth": 1, "gridOpacity": 0.9, "domain": false, "ticks": true, "tickSize": -10, "tickColor": "black", "tickWidth": 1.5, "labelFontSize": 25, "labelColor": "black", "labelFont": "Liberation Sans", "labelPadding": 16, "labelFlush": false, "labelOverlap": false, "title": "Ratio CNR/QASUME", "titleFontSize": 25, "titleFontWeight": "normal", "titleColor": "black", "titleFont": "Liberation Sans", "titlePadding": 9}},
"detail": {"field": "s", "type": "nominal"}
}
},
{
"data": {"name": "fit"},
"mark": {"type": "line", "stroke": "black", "strokeWidth": 2.5, "strokeDash": [11, 7]},
"encoding": {
"x": {"field": "w", "type": "quantitative", "axis": {"orient": "top", "values": [300,310,320,330,340,350,360,370,380,390,400], "labels": false, "grid": false, "domain": false, "ticks": true, "tickSize": -10, "tickColor": "black", "tickWidth": 1.5, "title": null}},
"y": {"field": "v", "type": "quantitative", "axis": {"orient": "right", "values": [0.5,0.6,0.7,0.8,0.9,1,1.1,1.2], "labels": false, "grid": false, "domain": false, "ticks": true, "tickSize": -10, "tickColor": "black", "tickWidth": 1.5, "title": null}}
}
},
{
"data": {"name": "median"},
"mark": {"type": "line", "strokeWidth": 10, "interpolate": "monotone", "strokeJoin": "round", "clip": true},
"encoding": {
"x": {"field": "w", "type": "quantitative", "axis": null},
"y": {"field": "v", "type": "quantitative", "axis": null},
"color": {"datum": "MEDIAN", "type": "nominal", "scale": {"range": ["black"]},
"legend": {"title": null, "orient": "top-right", "offset": 9, "symbolType": "M-6.5,0H6.5", "symbolStrokeWidth": 10, "symbolSize": 64, "symbolOffset": 23, "symbolStrokeColor": "black", "symbolFillColor": "black", "labelFontSize": 25, "labelFont": "Liberation Sans", "labelColor": "black", "labelOffset": 29, "strokeColor": "black", "fillColor": "white", "padding": 3}}
}
},
{
"data": {"name": "note"},
"mark": {"type": "text", "align": "left", "baseline": "alphabetic", "fontSize": 26, "font": "Liberation Sans", "color": "black"},
"encoding": {
"x": {"datum": 341.35, "type": "quantitative", "axis": null},
"y": {"datum": 1.041, "type": "quantitative", "axis": null},
"text": {"field": "t"}
}
}
],
"resolve": {"axis": {"x": "independent", "y": "independent"}}
}
